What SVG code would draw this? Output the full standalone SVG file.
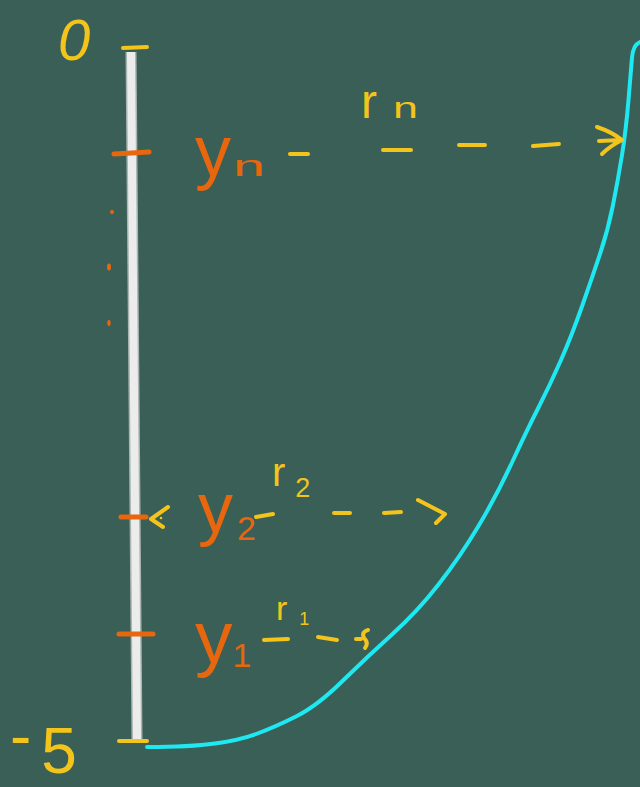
<svg xmlns="http://www.w3.org/2000/svg" width="640" height="787" viewBox="0 0 640 787">
<style>
.bg{fill:#3a5f56}
.yel{stroke:#f3c41c;stroke-width:4;stroke-linecap:round;stroke-linejoin:round;fill:none}
.ora{stroke:#e8660d;stroke-width:5;stroke-linecap:round;fill:none}
.cyan{stroke:#1ee9f2;stroke-width:4;stroke-linecap:round;stroke-linejoin:round;fill:none}
.ty{fill:#f3c41c;font-family:"Liberation Sans","DejaVu Sans",sans-serif}
.to{fill:#e8660d;font-family:"Liberation Sans","DejaVu Sans",sans-serif}
</style>
<rect class="bg" x="0" y="0" width="640" height="787"/>

<g id="axis">
  <line x1="131" y1="52" x2="137" y2="739" stroke="#aab5b1" stroke-width="11"/>
  <line x1="131" y1="52" x2="137" y2="739" stroke="#ececec" stroke-width="8"/>
  <circle cx="112" cy="212" r="2" fill="#e8660d"/>
  <ellipse cx="109" cy="267" rx="2" ry="3.5" fill="#e8660d"/>
  <ellipse cx="109" cy="323" rx="1.7" ry="3" fill="#e8660d"/>
</g>

<g id="tick-0">
  <line class="yel" x1="123" y1="48" x2="147" y2="47" stroke-width="5"/>
  <text class="ty" x="58" y="60" font-size="58" font-style="italic">0</text>
</g>

<g id="tick-yn">
  <line class="ora" x1="114" y1="154" x2="149" y2="152"/>
  <text class="to" x="195" y="176" font-size="72">y<tspan font-size="30" dx="2" textLength="32" lengthAdjust="spacingAndGlyphs">n</tspan></text>
</g>

<g id="tick-y2">
  <line class="ora" x1="121" y1="517" x2="146" y2="517"/>
  <text class="to" x="198" y="532" font-size="70">y<tspan font-size="34" dx="4" dy="8">2</tspan></text>
</g>

<g id="tick-y1">
  <line class="ora" x1="119" y1="634" x2="153" y2="634"/>
  <text class="to" x="195" y="663" font-size="75">y<tspan font-size="34" dy="4">1</tspan></text>
</g>

<g id="tick-minus5">
  <line class="yel" x1="119" y1="741" x2="147" y2="741" stroke-width="6"/>
  <text class="ty" x="10" y="758" font-size="64">-<tspan dx="10" dy="15">5</tspan></text>
</g>

<g id="label-rn">
  <text class="ty" x="361" y="118" font-size="48">r<tspan dx="16" font-size="30" textLength="25" lengthAdjust="spacingAndGlyphs">n</tspan></text>
</g>
<g id="label-r2">
  <text class="ty" x="272" y="486" font-size="40">r<tspan dx="10" font-size="27" dy="11">2</tspan></text>
</g>
<g id="label-r1">
  <text class="ty" x="276" y="620" font-size="34">r<tspan dx="12" font-size="18" dy="5">1</tspan></text>
</g>

<g id="curve">
  <path class="cyan" d="M147,747 Q190,747 215,743.5 Q240,740 257.5,733.5 Q275,727 296,716.5 Q317,706 342,681.5 Q367,657 392,634.5 Q417,612 438.5,584.5 Q460,557 478.5,526 Q497,495 512,462.5 Q527,430 538.5,407.5 Q550,385 561,360 Q572,335 582.5,305 Q593,275 600.5,252.5 Q608,230 613,205 Q618,180 622,155 Q626,130 628.5,100 Q631,70 632,57.5 Q633,45 640,42"/>
</g>

<g id="connectors">
  <g id="arrow-rn">
    <line class="yel" x1="290" y1="154" x2="308" y2="154"/>
    <line class="yel" x1="383" y1="150" x2="411" y2="150"/>
    <line class="yel" x1="459" y1="145" x2="485" y2="145"/>
    <line class="yel" x1="533" y1="146" x2="559" y2="144"/>
    <path class="yel" d="M599,141 L621,140 M597,127 Q612,132 622,140 Q610,146 602,154"/>
  </g>
  <g id="arrow-r2">
    <path class="yel" d="M168,507 L151,519 L163,527" stroke-width="3"/>
    <circle cx="161" cy="518" r="1.3" fill="#f3c41c"/>
    <line class="yel" x1="256" y1="517" x2="273" y2="514" stroke-width="3"/>
    <line class="yel" x1="334" y1="513" x2="350" y2="513"/>
    <line class="yel" x1="384" y1="513" x2="401" y2="512"/>
    <path class="yel" d="M418,500 L445,514 L436,523"/>
  </g>
  <g id="arrow-r1">
    <line class="yel" x1="264" y1="640" x2="288" y2="639" stroke-width="3"/>
    <line class="yel" x1="318" y1="637" x2="337" y2="640" stroke-width="3"/>
    <path class="yel" d="M356,639 L361,639 M368,630 Q361,632 364,638 Q369,643 365,648" stroke-width="3"/>
  </g>
</g>
</svg>
